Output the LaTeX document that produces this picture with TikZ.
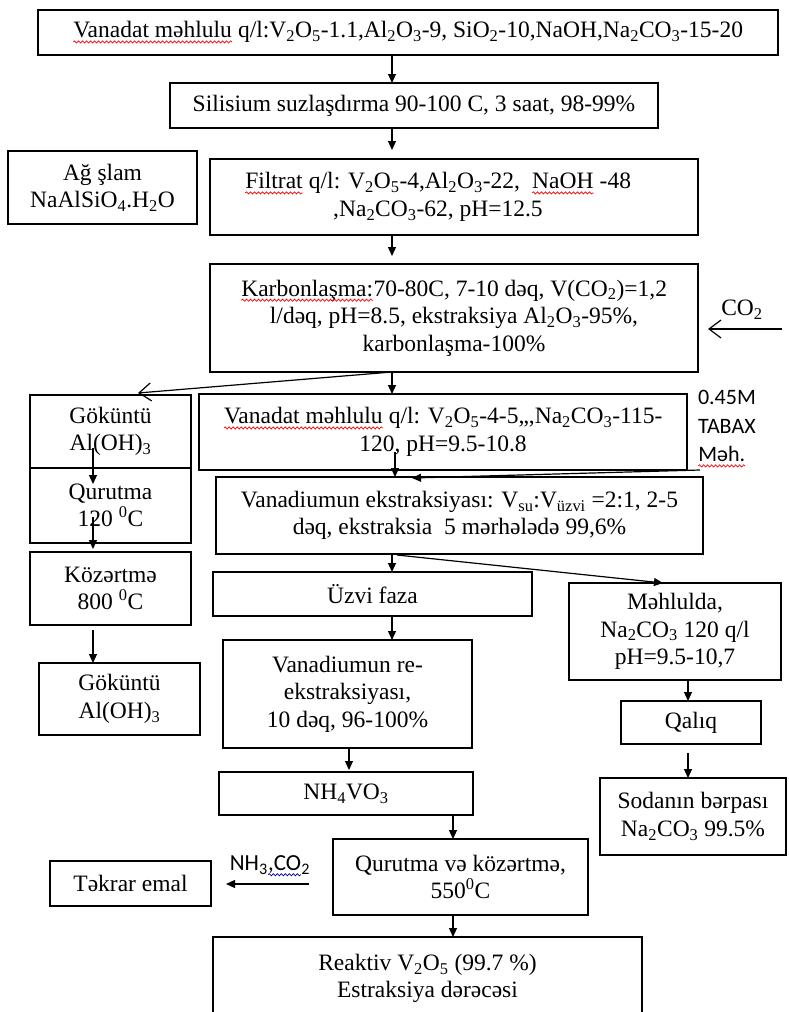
\documentclass[tikz,border=0pt]{standalone}
\usepackage{fontspec}
\setmainfont{Liberation Serif}
\newfontfamily\calfont{Carlito}
\usetikzlibrary{arrows.meta,calc,decorations.pathmorphing}
\newcommand\sub[1]{\textsubscript{#1}}
\newcommand\mksq[4]{\sbox#1{#3\tikz[baseline=(t.base)]{\node[inner sep=0pt,outer sep=0pt](t){#4};\draw[#2,line width=0.7pt,decorate,decoration={snake,amplitude=1.1pt,segment length=4pt}]([yshift=-4pt]t.base west)--([yshift=-4pt]t.base east);}}}
\newsavebox\sqVa \newsavebox\sqFi \newsavebox\sqNa \newsavebox\sqKa \newsavebox\sqMe \newsavebox\sqCo
\newcommand\bfont{\fontsize{23.5}{27.5}\selectfont}
\mksq{\sqVa}{red}{\bfont}{Vanadat məhlulu}
\mksq{\sqFi}{red}{\bfont}{Filtrat}
\mksq{\sqNa}{red}{\bfont}{NaOH}
\mksq{\sqKa}{red}{\bfont}{Karbonlaşma:}
\mksq{\sqMe}{red}{\calfont\fontsize{22}{28.5}\selectfont}{Məh.}
\mksq{\sqCo}{blue!60!black}{\calfont\fontsize{23}{27}\selectfont}{,CO}
\tikzset{
  box/.style={draw, line width=1.2pt, inner sep=2pt, outer sep=0pt, align=center,
    font=\bfont},
  arr/.style={line width=1.2pt, -{Triangle[length=9pt,width=8pt]}},
  barb/.style={line width=1.2pt, -{Straight Barb[length=12pt,width=18pt]}},
  lab/.style={inner sep=0pt, outer sep=0pt, align=left},
}
\begin{document}
\begin{tikzpicture}[x=1pt,y=-1pt]
\useasboundingbox (0,0) rectangle (788,1012);
% boxes
\node[box, minimum width=740pt, minimum height=45pt] (B1) at (408,32.5)
  {\usebox\sqVa{} q/l:V\sub{2}O\sub{5}-1.1,Al\sub{2}O\sub{3}-9, SiO\sub{2}-10,NaOH,Na\sub{2}CO\sub{3}-15-20};
\node[box, minimum width=488pt, minimum height=45pt] (B2) at (414,105.5)
  {Silisium suzlaşdırma 90-100 C, 3 saat, 98-99\%};
\node[box, minimum width=189pt, minimum height=73pt] (B3) at (102.5,187.5)
  {Ağ şlam\\NaAlSiO\sub{4}.H\sub{2}O};
\node[box, minimum width=488pt, minimum height=76pt] (B4) at (454,197)
  {\usebox\sqFi{} q/l: V\sub{2}O\sub{5}-4,Al\sub{2}O\sub{3}-22,~ \usebox\sqNa{} -48\hspace*{32pt}\\,Na\sub{2}CO\sub{3}-62, pH=12.5\hspace*{32pt}};
\node[box, minimum width=488pt, minimum height=108pt] (B5) at (454,318)
  {\usebox\sqKa{}70-80C, 7-10 dəq, V(CO\sub{2})=1,2\\l/dəq, pH=8.5, ekstraksiya Al\sub{2}O\sub{3}-95\%,\\karbonlaşma-100\%};
\node[box, minimum width=161pt, minimum height=73pt] (B6) at (110.5,431.5)
  {Göküntü\\Al(OH)\sub{3}};
\node[box, minimum width=161pt, minimum height=75pt] (B7) at (110.5,505.5)
  {Qurutma\\120 \textsuperscript{0}C};
\node[box, minimum width=161pt, minimum height=73pt] (B8) at (110.5,588.5)
  {Közərtmə\\800 \textsuperscript{0}C};
\node[box, minimum width=161pt, minimum height=72pt] (B9) at (119.5,699)
  {Göküntü\\Al(OH)\sub{3}};
\node[box, minimum width=488pt, minimum height=76pt] (B10) at (443,432)
  {\usebox\sqVa{} q/l: V\sub{2}O\sub{5}-4-5,,,Na\sub{2}CO\sub{3}-115-\\120, pH=9.5-10.8};
\node[box, minimum width=487pt, minimum height=77pt] (B11) at (459.5,515.5)
  {Vanadiumun ekstraksiyası: V\sub{su}:V\sub{üzvi} =2:1, 2-5\\dəq, ekstraksia~ 5 mərhələdə 99,6\%};
\node[box, minimum width=319pt, minimum height=44pt] (B12) at (372.5,594)
  {Üzvi faza};
\node[box, minimum width=249pt, minimum height=108pt] (B13) at (347.5,694)
  {Vanadiumun re-\\ekstraksiyası,\\10 dəq, 96-100\%};
\node[box, minimum width=254pt, minimum height=43pt] (B14) at (346,793.5)
  {NH\sub{4}VO\sub{3}};
\node[box, minimum width=255pt, minimum height=76pt] (B15) at (460.5,877)
  {Qurutma və közərtmə,\\550\textsuperscript{0}C};
\node[box, minimum width=429pt, minimum height=83pt] (B16) at (427.5,978.5)
  {Reaktiv V\sub{2}O\sub{5} (99.7 \%)\\Estraksiya dərəcəsi};
\node[box, minimum width=212pt, minimum height=97pt] (B17) at (675,631.5)
  {Məhlulda,\\Na\sub{2}CO\sub{3} 120 q/l\\pH=9.5-10,7};
\node[box, minimum width=140pt, minimum height=43pt] (B18) at (691,722.5)
  {Qalıq};
\node[box, minimum width=186pt, minimum height=77pt] (B19) at (693,816.5)
  {Sodanın bərpası\\Na\sub{2}CO\sub{3} 99.5\%};
\node[box, minimum width=161pt, minimum height=45pt] (B20) at (130.5,883.5)
  {Təkrar emal};
\draw[line width=2.8pt] (B6.south west) -- (B6.south east);
% labels
\node[lab, font=\bfont] (Lco2) at (742,310) {CO\sub{2}};
\node[lab, anchor=west, font=\calfont\fontsize{22}{28.5}\selectfont] (Ltab) at (698,429)
  {0.45M\\TABAX\\\usebox\sqMe};
\node[lab, font=\calfont\fontsize{23}{27}\selectfont] (Lnh) at (270,866)
  {NH\sub{3}\usebox\sqCo\sub{2}};
% coordinates
\coordinate (ax) at (392,0);
\coordinate (bx) at (395,0);
\coordinate (cx) at (349,0);
\coordinate (dx) at (453,0);
\coordinate (lx) at (93,0);
\coordinate (rx) at (688,0);
\coordinate (mx) at (663,0);
\coordinate (gk) at (138,393);
\coordinate (co2s) at (782,329);
\coordinate (tab) at (700,470);
\coordinate (tabtip) at (412,478);
\coordinate (tk) at (309,884);
% connectors
\draw[arr] (ax |- B1.south) -- (ax |- B2.north);
\draw[arr, shorten >=9pt] (ax |- B2.south) -- (ax |- B4.north);
\draw[arr, shorten >=8pt] (ax |- B4.south) -- (ax |- B5.north);
\draw[arr] (ax |- B5.south) -- (ax |- B10.north);
\draw[barb] (ax |- B5.south) -- (gk);
\draw[barb, shorten >=10pt] (co2s) -- (B5.east |- co2s);
\draw[arr] ($(bx |- B10.south)+(0,-18)$) -- (bx |- B11.north);
\draw[arr] (tab) -- (tabtip);
\draw[arr] (ax |- B11.south) -- (ax |- B12.north);
\draw[arr] ($(ax |- B11.south)+(5,1)$) -- (mx |- B17.north);
\draw[arr] (ax |- B12.south) -- (ax |- B13.north);
\draw[arr, shorten >=2pt] (cx |- B13.south) -- (cx |- B14.north);
\draw[arr] (dx |- B14.south) -- (dx |- B15.north);
\draw[arr] (dx |- B15.south) -- (dx |- B16.north);
\draw[arr] ($(lx |- B6.south)+(0,-20)$) -- ($(lx |- B7.north)+(0,16)$);
\draw[arr] ($(lx |- B7.south)+(0,-26)$) -- ($(lx |- B8.north)+(0,-3)$);
\draw[arr] ($(lx |- B8.south)+(0,5)$) -- (lx |- B9.north);
\draw[arr] (rx |- B17.south) -- (rx |- B18.north);
\draw[arr] ($(rx |- B18.south)+(0,9)$) -- (rx |- B19.north);
\draw[arr, shorten >=15pt] (tk) -- (B20.east |- tk);
\end{tikzpicture}
\end{document}
